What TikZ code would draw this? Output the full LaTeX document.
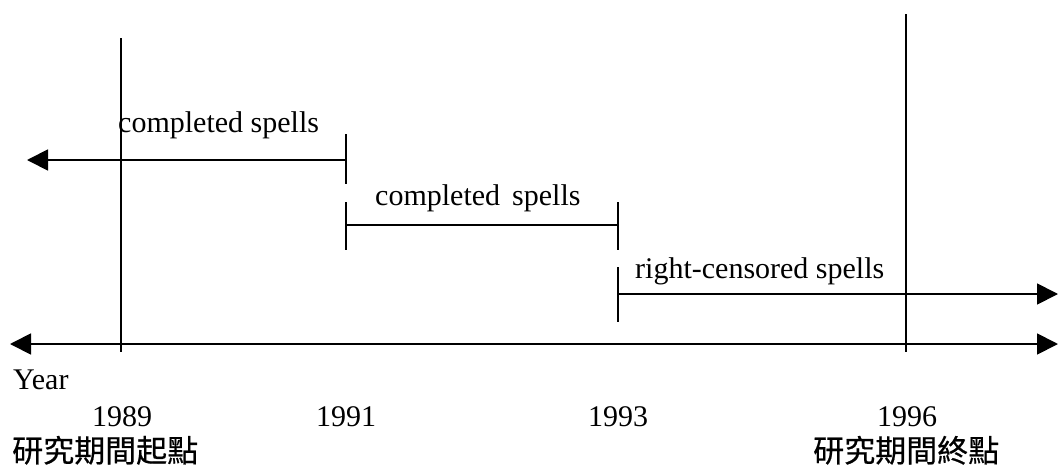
\documentclass[tikz,border=0pt]{standalone}
\usepackage{fontspec}
\setmainfont{Liberation Serif}
\newfontfamily\cjkfont[FakeBold=0.5]{Noto Sans CJK TC}
\usetikzlibrary{arrows.meta}

\begin{document}
\begin{tikzpicture}[
  x=1pt,y=-1pt,
  font=\fontsize{30}{34}\selectfont,
  rule/.style={line width=1.8pt,draw=black},
  spell/.style={rule,-{Triangle[length=21pt,width=21pt]}},
  axis/.style={rule,{Triangle[length=21pt,width=21pt]}-{Triangle[length=21pt,width=21pt]}},
  txt/.style={inner sep=0pt,anchor=base west},
  yr/.style={inner sep=0pt,anchor=base},
  cjk/.style={inner sep=0pt,anchor=base west,font=\cjkfont\fontsize{31}{34}\selectfont}
]
\useasboundingbox (0,0) rectangle (1058,466);

% study window
\coordinate (startT) at (121,38);
\coordinate (startB) at (121,352);
\coordinate (endT) at (906,14);
\coordinate (endB) at (906,352);
\draw[rule] (startT) -- (startB);
\draw[rule] (endT) -- (endB);

% time axis
\coordinate (axisL) at (10,344);
\coordinate (axisR) at (1058,344);
\draw[axis] (axisL) -- (axisR);

% first spell
\coordinate (onebeg) at (346,160);
\coordinate (onetip) at (27,160);
\coordinate (onetickT) at (346,134);
\coordinate (onetickB) at (346,184);
\draw[spell] (onebeg) -- (onetip);
\draw[rule] (onetickT) -- (onetickB);
\node[txt] (lblone) at (118,132) {completed spells};

% second spell
\coordinate (twoL) at (346,225);
\coordinate (twoR) at (618,225);
\coordinate (twotickLT) at (346,202);
\coordinate (twotickLB) at (346,250);
\coordinate (twotickRT) at (618,202);
\coordinate (twotickRB) at (618,250);
\draw[rule] (twoL) -- (twoR);
\draw[rule] (twotickLT) -- (twotickLB);
\draw[rule] (twotickRT) -- (twotickRB);
\node[txt] (lbltwo) at (375,205) {completed\hspace{12pt}spells};

% third spell
\coordinate (threebeg) at (618,294);
\coordinate (threetip) at (1058,294);
\coordinate (threetickT) at (618,267);
\coordinate (threetickB) at (618,322);
\draw[spell] (threebeg) -- (threetip);
\draw[rule] (threetickT) -- (threetickB);
\node[txt] (lblthree) at (635,278) {right-censored spells};

% years
\node[txt] (year) at (13,389) {Year};
\node[yr] (y89) at (122,426) {1989};
\node[yr] (y91) at (346,426) {1991};
\node[yr] (y93) at (618,426) {1993};
\node[yr] (y96) at (907,426) {1996};
\node[cjk] (start) at (12,462) {研究期間起點};
\node[cjk] (finish) at (813,462) {研究期間終點};
\end{tikzpicture}
\end{document}
